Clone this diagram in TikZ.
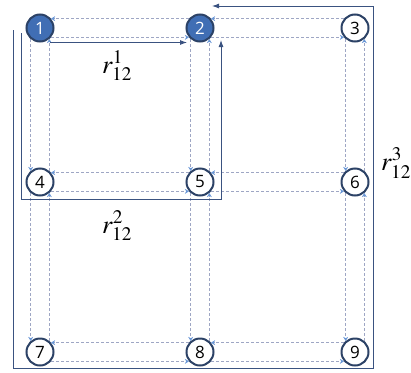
\documentclass[tikz,border=0pt]{standalone}
\usepackage{mathptmx}
\usepackage{fontspec}
\setsansfont{Open Sans}
\usepackage{tikz}
\usetikzlibrary{positioning, calc}
\usetikzlibrary{arrows.meta}
\definecolor{cNode}{RGB}{64,110,180}
\definecolor{cEdge}{RGB}{44,66,102}
\definecolor{cRoute}{RGB}{58,82,128}
\definecolor{cDash}{RGB}{158,166,196}
\definecolor{cTip}{RGB}{104,150,214}

\begin{document}
\begin{tikzpicture}[x=1pt, y=1pt, node distance=160pt, on grid,
    city/.style={circle, draw=cEdge, line width=2pt, fill=white, minimum size=27pt, inner sep=0pt, font=\sffamily\fontsize{17}{17}\selectfont},
    src/.style={city, fill=cNode, text=white},
    dline/.style={cDash, line width=0.7pt, dash pattern=on 3pt off 2pt, -{Stealth[length=4pt, width=5pt, cTip]}},
    route/.style={cRoute, line width=0.9pt, -{Latex[length=7pt, width=5pt]}},
    lbl/.style={font=\fontsize{26}{26}\selectfont}]
    \useasboundingbox (0,0) rectangle (411,-372);
    \node[src] (n1) at (40,-28) {1};
    \node[src] (n2) [right=of n1] {2};
    \node[city] (n3) [right=155pt of n2] {3};
    \node[city] (n4) [below=154pt of n1] {4};
    \node[city] (n5) [right=of n4] {5};
    \node[city] (n6) [right=155pt of n5] {6};
    \node[city] (n7) [below=170pt of n4] {7};
    \node[city] (n8) [right=of n7] {8};
    \node[city] (n9) [right=155pt of n8] {9};

    % two links, one each way, between neighbours
    \foreach \a/\b in {1/2,2/3,4/5,5/6,7/8,8/9}{
        \draw[dline] (n\b.140) -- (n\a.40);
        \draw[dline] (n\a.-40) -- (n\b.220);
    }
    \foreach \a/\b in {1/4,2/5,3/6,4/7,5/8,6/9}{
        \draw[dline] (n\a.230) -- (n\b.130);
        \draw[dline] (n\b.50) -- (n\a.310);
    }

    \draw[route] ([xshift=10pt]n1.south) -- ([xshift=-13pt]n2.south);
    \draw[route] ($(n1)+(-19pt,-5pt)$) |- ($(n5)+(21pt,-17pt)$) -- ($(n2)+(21pt,-12pt)$);
    \draw[route] ($(n1)+(-27pt,-2pt)$) |- ($(n9)+(18pt,-16pt)$) -- ($(n3)+(18pt,22pt)$) -- ($(n2)+(12pt,22pt)$);

    \node[lbl] (r1) at ($(n1)+(77pt,-38pt)$) {$r_{12}^{1}$};
    \node[lbl] (r2) at ($(n4)+(77pt,-44pt)$) {$r_{12}^{2}$};
    \node[lbl] (r3) at ($(n6)+(41pt,19pt)$) {$r_{12}^{3}$};
\end{tikzpicture}
\end{document}
